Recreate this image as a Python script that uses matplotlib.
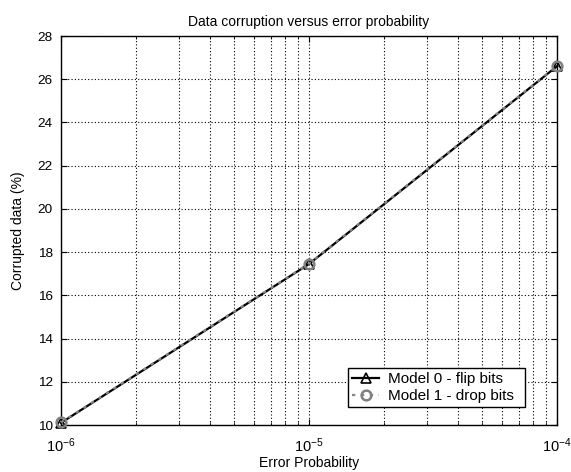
import matplotlib
matplotlib.use("Agg")
import matplotlib.pyplot as plt
from matplotlib.ticker import LogLocator, NullFormatter, FixedLocator

plt.rcParams["font.family"] = ["Liberation Sans", "DejaVu Sans"]
plt.rcParams["mathtext.fontset"] = "custom"
plt.rcParams["mathtext.rm"] = "Liberation Sans"
plt.rcParams["mathtext.it"] = "Liberation Sans:italic"
plt.rcParams["mathtext.bf"] = "Liberation Sans:bold"

error_prob = [1e-6, 1e-5, 1e-4]
model0_flip = [10.1, 17.45, 26.6]
model1_drop = [10.12, 17.47, 26.62]
y_ticks = [10, 12, 14, 16, 18, 20, 22, 24, 26, 28]

fig = plt.figure(figsize=(5.71, 4.72), dpi=100)
ax = fig.add_axes([61 / 571, 1 - 425 / 472, (557 - 61) / 571, (425 - 36) / 472])

ax.plot(error_prob, model0_flip, color="black", linestyle="-", linewidth=1.6,
        marker="^", markersize=7, markerfacecolor="none", markeredgecolor="black",
        markeredgewidth=1.2, label="Model 0 - flip bits", clip_on=False, zorder=3)
ax.plot(error_prob, model1_drop, color="#888888", linestyle=(0, (1.5, 2.5)), linewidth=1.6,
        marker="o", markersize=7, markerfacecolor="none", markeredgecolor="#808080",
        markeredgewidth=1.8, label="Model 1 - drop bits", clip_on=False, zorder=4)

ax.set_xscale("log")
ax.set_xlim(1e-6, 1e-4)
ax.set_ylim(10, 28)
ax.yaxis.set_major_locator(FixedLocator(y_ticks))
ax.xaxis.set_major_locator(LogLocator(base=10, numticks=5))
ax.xaxis.set_minor_locator(LogLocator(base=10, subs=range(2, 10), numticks=20))
ax.xaxis.set_minor_formatter(NullFormatter())

ax.grid(True, which="major", color="black", linestyle=(0, (1, 2)), linewidth=0.8)
ax.grid(True, which="minor", axis="x", color="black", linestyle=(0, (1, 2)), linewidth=0.8)
ax.tick_params(which="both", direction="in", top=True, right=True, labelsize=9.7)
ax.tick_params(axis="x", labelsize=10.5)
ax.tick_params(which="major", length=4)
ax.tick_params(which="minor", length=2)
ax.tick_params(axis="x", pad=8)
ax.tick_params(axis="y", pad=6)
for spine in ax.spines.values():
    spine.set_linewidth(1.0)

ax.set_title("Data corruption versus error probability", fontsize=10, pad=7)
ax.set_xlabel("Error Probability", fontsize=10, labelpad=1)
ax.set_ylabel("Corrupted data (%)", fontsize=10, labelpad=9)

leg = ax.legend(loc="lower left", bbox_to_anchor=(0.5786, 0.0463, 0.357, 0.1), mode="expand",
                fontsize=11, fancybox=False, framealpha=1, edgecolor="black", handlelength=1.8,
                borderpad=0.25, labelspacing=0.2, handletextpad=0.6, borderaxespad=0)
leg.get_frame().set_linewidth(1.0)
leg.set_zorder(5)

fig.savefig("out.png", dpi=100)
